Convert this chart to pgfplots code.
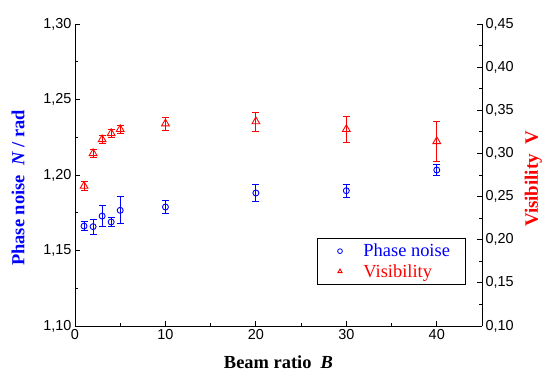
\documentclass[border=0pt]{standalone}
\usepackage{fontspec}
\setmainfont{Liberation Serif}
\newfontfamily\arial{Liberation Sans}
\usepackage{pgfplots}
\pgfplotsset{compat=1.18}
\definecolor{pblue}{RGB}{0,0,255}
\definecolor{pred}{RGB}{255,0,0}
\begin{document}
\begin{tikzpicture}
\pgfplotsset{
  common/.style={
    scale only axis, width=407bp, height=302bp,
    xmin=0, xmax=45,
    tick align=inside,
    major tick length=5bp, minor tick length=3bp,
    every tick/.style={black, line width=0.8bp},
    axis line style={line width=0.9bp},
    /pgf/number format/assume math mode=true,
    tick label style={font=\arial\fontsize{14.5}{16}\selectfont},
    y tick label style={/pgf/number format/.cd, fixed, fixed zerofill, precision=2, use comma},
    minor y tick num=1,
  },
  ebar/.style={
    error bars/.cd, y dir=both, y explicit,
    error bar style={line width=0.9bp},
    error mark options={rotate=90, mark size=3.5bp, line width=0.9bp},
  },
}
\begin{axis}[common, name=main,
  axis x line*=bottom, axis y line*=left,
  ymin=1.10, ymax=1.30, ytick={1.10,1.15,1.20,1.25,1.30},
  xtick={0,10,20,30,40}, minor x tick num=1,
  xlabel={Beam ratio\ \ \textit{B}},
  xlabel style={font=\fontsize{18.5}{20}\selectfont\bfseries, at={(axis description cs:0.5,-0.119)}, anchor=center},
  ylabel={Phase noise\ \ \textit{N} / rad},
  ylabel style={font=\fontsize{18.5}{20}\selectfont\bfseries, text=pblue, at={(axis description cs:-0.140,0.457)}, anchor=center},
]
\addplot[pblue, only marks, mark=o, mark size=3bp, line width=0.9bp, ebar] coordinates {
  (1,1.1662) +- (0,0.0031)
  (2,1.1658) +- (0,0.0049)
  (3,1.1728) +- (0,0.0068)
  (4,1.1689) +- (0,0.0031)
  (5,1.1766) +- (0,0.0090)
  (10,1.1788) +- (0,0.0042)
  (20,1.1881) +- (0,0.0058)
  (30,1.1896) +- (0,0.0044)
  (40,1.2033) +- (0,0.0039)
};
\end{axis}
\begin{axis}[common,
  axis y line*=right, axis x line=none,
  ymin=0.10, ymax=0.45, ytick={0.10,0.15,0.20,0.25,0.30,0.35,0.40,0.45},
  ylabel={Visibility\ \ V},
  ylabel style={font=\fontsize{19}{20}\selectfont\bfseries, text=pred, at={(axis description cs:1.126,0.487)}, anchor=center},
  legend style={at={(axis description cs:0.595,0.291)}, anchor=north west,
    draw=black, line width=0.8bp, font=\fontsize{18.5}{20}\selectfont,
    inner xsep=4bp, inner ysep=3.5bp, row sep=2bp},
  legend cell align=left,
  legend image code/.code={\path (0bp,0bp) (39bp,0bp); \draw[#1, mark size=2.4bp] plot coordinates {(18bp,0bp)};},
]
\addlegendimage{pblue, only marks, mark=o, line width=0.8bp}
\addlegendentry{\textcolor{pblue}{Phase noise}\rule{9bp}{0pt}}
\addplot[pred, only marks, mark=triangle, mark size=4.5bp, line width=0.9bp, ebar] coordinates {
  (1,0.2622) +- (0,0.005)
  (2,0.3001) +- (0,0.005)
  (3,0.3162) +- (0,0.005)
  (4,0.3233) +- (0,0.005)
  (5,0.3280) +- (0,0.005)
  (10,0.3345) +- (0,0.0077)
  (20,0.3370) +- (0,0.0110)
  (30,0.3280) +- (0,0.0148)
  (40,0.3140) +- (0,0.0228)
};
\addlegendentry{\textcolor{pred}{Visibility}}
\end{axis}
\pgfresetboundingbox
\path (main.south west) ++(-75bp,-50bp) rectangle ++(545bp,376bp);
\end{tikzpicture}
\end{document}
